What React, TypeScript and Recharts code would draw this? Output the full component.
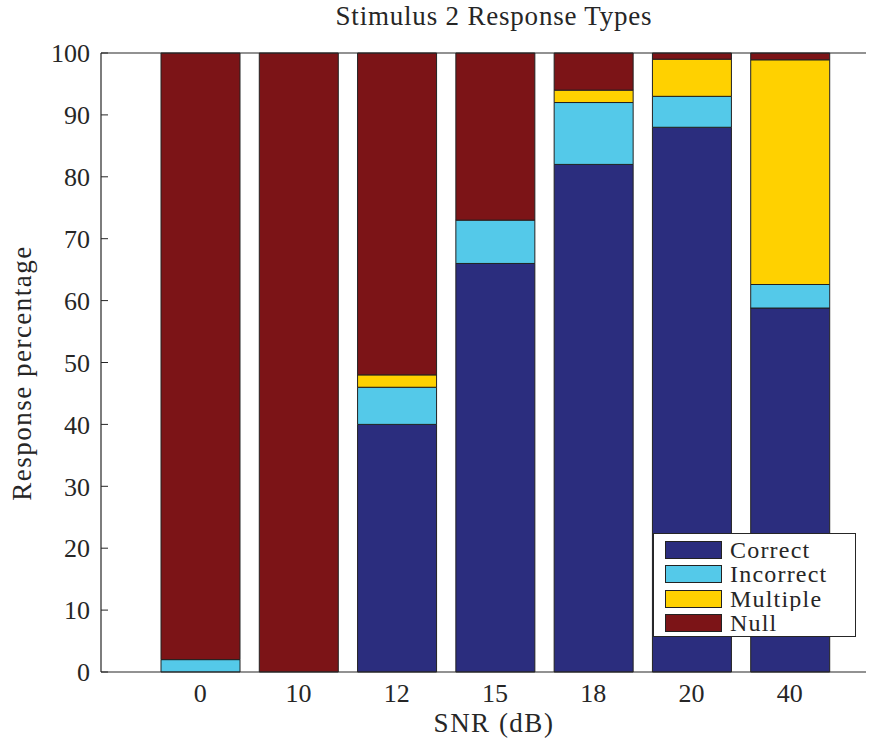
import { BarChart, Bar, XAxis, YAxis } from "recharts";

const snrLabels = ["0", "10", "12", "15", "18", "20", "40"];
const correct = [0, 0, 40, 66, 82, 88, 58.8];
const incorrect = [2, 0, 6, 7, 10, 5, 3.8];
const multiple = [0, 0, 2, 0, 2, 6, 36.3];
const nullResp = [98, 100, 52, 27, 6, 1, 1.1];
const yTicks = [0, 10, 20, 30, 40, 50, 60, 70, 80, 90, 100];

const series = [
  { key: "correct", name: "Correct", color: "#2B2D7E" },
  { key: "incorrect", name: "Incorrect", color: "#54C9E9" },
  { key: "multiple", name: "Multiple", color: "#FFD100" },
  { key: "nullResp", name: "Null", color: "#7C1417" },
];

const data = snrLabels.map((snr, i) => ({
  snr,
  correct: correct[i],
  incorrect: incorrect[i],
  multiple: multiple[i],
  nullResp: nullResp[i],
}));

const FONT = "Liberation Serif, DejaVu Serif, Times New Roman, serif";
const INK = "#262626";

function Legendbox() {
  return (
    <div
      style={{
        position: "absolute",
        left: 653,
        top: 533,
        width: 203,
        height: 104,
        boxSizing: "border-box",
        border: `1px solid ${INK}`,
        background: "#fff",
        paddingTop: 4,
        fontFamily: FONT,
        fontSize: 24,
        letterSpacing: 1.2,
        color: INK,
      }}
    >
      {series.map((s) => (
        <div
          key={s.key}
          style={{
            display: "flex",
            alignItems: "center",
            height: 24.3,
            overflow: "hidden",
          }}
        >
          <span
            style={{
              display: "inline-block",
              flex: "none",
              width: 57,
              height: 18,
              marginLeft: 11,
              marginRight: 8,
              background: s.color,
              border: "1px solid #222",
              boxSizing: "border-box",
            }}
          />
          <span style={{ lineHeight: "22px", whiteSpace: "nowrap" }}>{s.name}</span>
        </div>
      ))}
    </div>
  );
}

export default function App() {
  return (
    <div
      style={{
        position: "absolute",
        left: 0,
        top: 0,
        width: 880,
        height: 746,
        background: "#fff",
        fontFamily: FONT,
      }}
    >
      <div
        style={{
          position: "absolute",
          left: 0,
          top: 1,
          width: 988,
          textAlign: "center",
          fontFamily: FONT,
          fontSize: 27,
          color: INK,
          letterSpacing: 0.8,
          whiteSpace: "nowrap",
        }}
      >
        Stimulus 2 Response Types
      </div>
      <BarChart
        width={880}
        height={746}
        data={data}
        margin={{ top: 52, right: 14, bottom: 0, left: 0 }}
        style={{ fontFamily: FONT }}
      >
        <XAxis
          dataKey="snr"
          height={74}
          padding={{ left: 50, right: 27 }}
          tickLine={false}
          axisLine={{ stroke: INK, strokeWidth: 1.2 }}
          tickMargin={6}
          tick={{ fontSize: 26, fontFamily: FONT, fill: INK }}
          interval={0}
          label={{
            content: () => (
              <text
                x={494}
                y={732}
                textAnchor="middle"
                fontFamily={FONT}
                fontSize={27}
                letterSpacing={1.5}
                fill={INK}
              >
                SNR (dB)
              </text>
            ),
          }}
        />
        <XAxis
          xAxisId="top"
          orientation="top"
          dataKey="snr"
          height={1}
          padding={{ left: 50, right: 27 }}
          tick={false}
          tickLine={false}
          axisLine={{ stroke: INK, strokeWidth: 1.2 }}
        />
        <YAxis
          width={101}
          domain={[0, 100]}
          ticks={yTicks}
          interval={0}
          tickSize={-7}
          tickMargin={18}
          tickLine={{ stroke: INK }}
          axisLine={{ stroke: INK, strokeWidth: 1.2 }}
          tick={{ fontSize: 26, fontFamily: FONT, fill: INK }}
          label={{
            content: () => (
              <text
                x={31}
                y={373}
                textAnchor="middle"
                fontFamily={FONT}
                fontSize={27}
                letterSpacing={1.5}
                fill={INK}
                transform="rotate(-90 31 373)"
              >
                Response percentage
              </text>
            ),
          }}
        />
        <YAxis
          yAxisId="right"
          orientation="right"
          width={0}
          domain={[0, 100]}
          tick={false}
          tickLine={false}
          axisLine={{ stroke: INK, strokeWidth: 1.2 }}
        />
        {series.map((s) => (
          <Bar
            key={s.key}
            dataKey={s.key}
            name={s.name}
            stackId="a"
            fill={s.color}
            stroke="#222"
            strokeWidth={1}
            barSize={79}
            isAnimationActive={false}
          />
        ))}
      </BarChart>
      <Legendbox />
    </div>
  );
}
